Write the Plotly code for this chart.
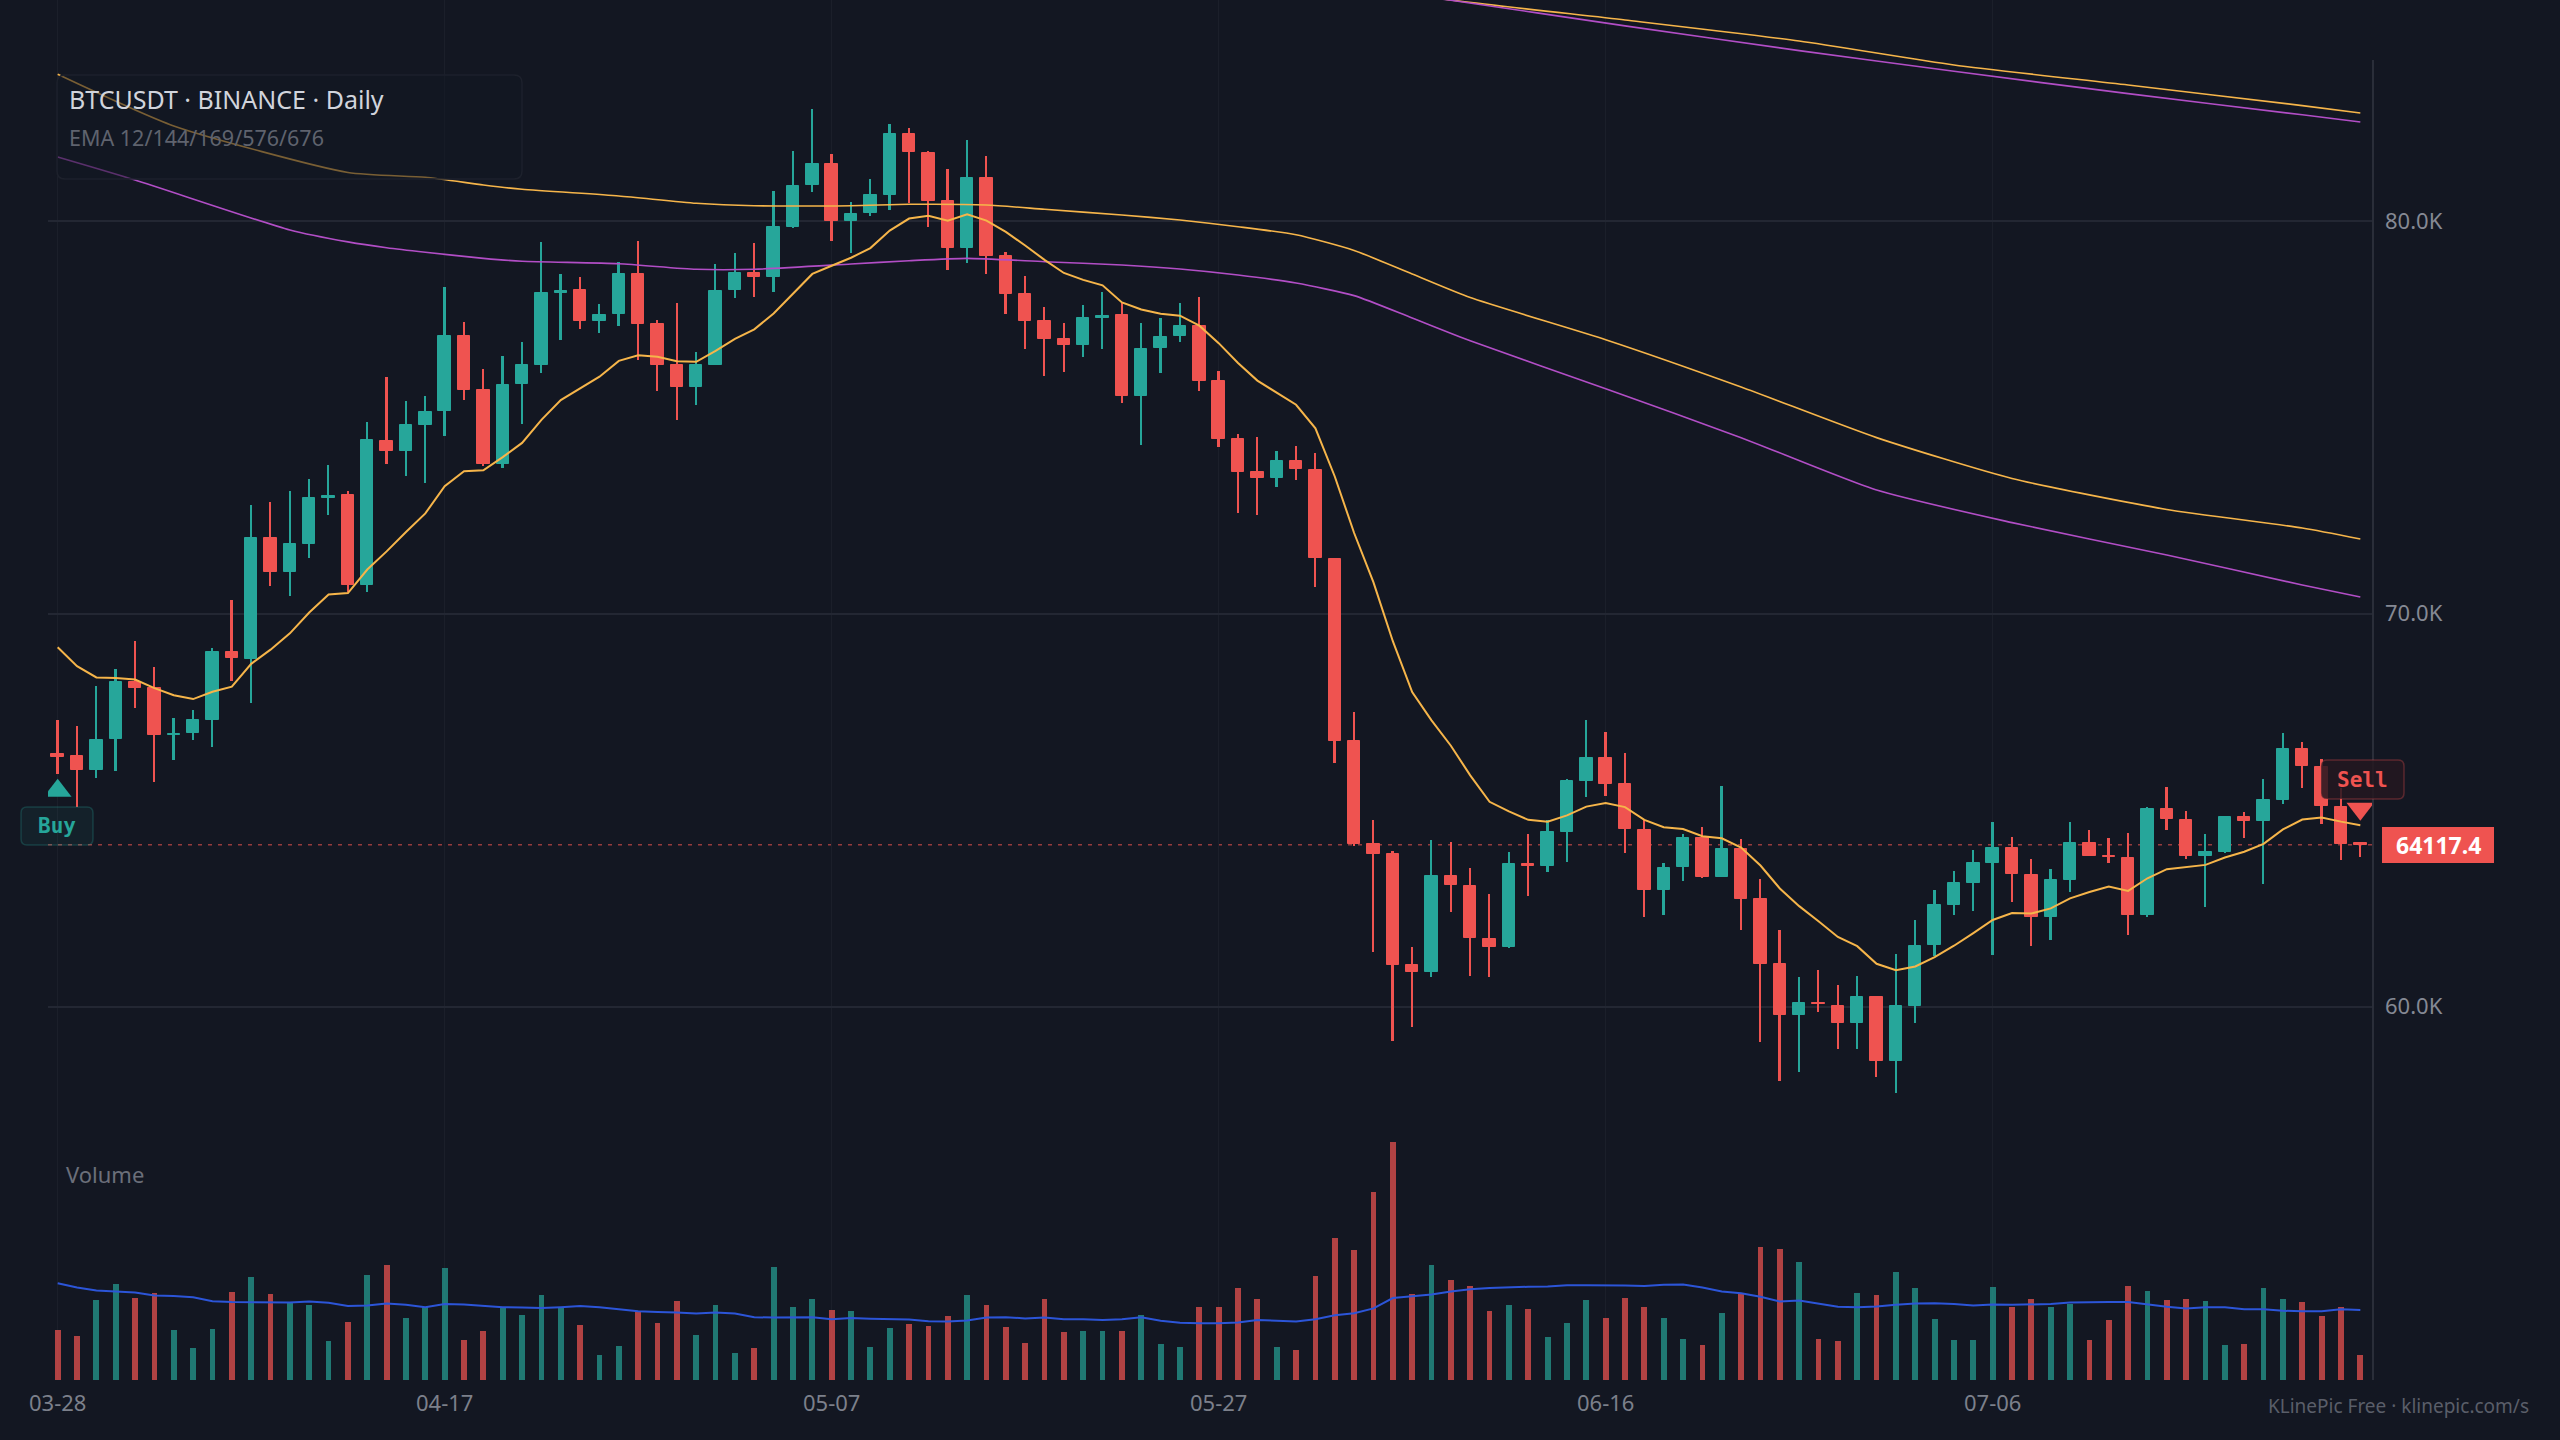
import plotly.graph_objects as go

# ---------------- data ----------------
tick_pos = [0, 20, 40, 60, 80, 100]
tick_labels = ["03-28", "04-17", "05-07", "05-27", "06-16", "07-06"]

opens = [66420, 66382, 66019, 66805, 68274, 68113, 66905, 66966, 67308, 69020,
         68858, 71919, 71073, 71788, 72956, 73036, 70741, 74405, 74133, 74818,
         75160, 77071, 75687, 73804, 75842, 76333, 78175, 78251, 77445, 77632,
         78650, 77369, 76342, 75782, 76342, 78235, 78684, 78574, 79855, 80908,
         81442, 80008, 80195, 80670, 82206, 81740, 80500, 79321, 81086, 79100,
         78137, 77448, 76994, 76838, 77530, 77604, 75539, 76760, 77071, 77318,
         75928, 74448, 73610, 73465, 73881, 73669, 71403, 66761, 64138, 63884,
         61049, 60888, 63324, 63078, 61720, 61516, 63621, 63587, 64452, 65751,
         66320, 65666, 64503, 62967, 63544, 64283, 63307, 64011, 62730, 61075,
         59793, 60081, 60014, 59572, 60251, 58622, 60022, 61558, 62585, 63145,
         63654, 64036, 63358, 62288, 63231, 64156, 63825, 63774, 62339, 65038,
         64741, 63833, 63926, 64835, 64725, 65259, 66549, 66108, 65089, 64160]

highs = [67288, 67137, 68164, 68597, 69301, 68647, 67358, 67560, 69130, 70348,
         72774, 72855, 73137, 73429, 73781, 73127, 74889, 76026, 75422, 75533,
         78331, 77420, 76231, 76554, 76927, 79465, 78659, 78582, 77886, 78947,
         79482, 77479, 77903, 76664, 78913, 79193, 79439, 80772, 81782, 82843,
         81697, 80492, 81077, 82478, 82376, 81782, 81324, 82053, 81663, 79219,
         78604, 77799, 77409, 77851, 78189, 77903, 77409, 77539, 77903, 78072,
         76175, 74590, 74509, 74144, 74272, 74085, 71411, 67508, 64749, 63969,
         61524, 64232, 64189, 63519, 62857, 63926, 64393, 64749, 65793, 67287,
         66990, 66447, 64749, 63663, 64393, 64580, 65615, 64266, 63239, 61949,
         60752, 60930, 60540, 60777, 60268, 61329, 62195, 62976, 63451, 63994,
         64690, 64308, 63757, 63494, 64690, 64495, 64291, 64410, 65089, 65581,
         64987, 64385, 64860, 64962, 65794, 66956, 66736, 66303, 65573, 64198]

lows = [65929, 65073, 65808, 66009, 67590, 65707, 66281, 66774, 66613, 68295,
        67741, 70711, 70459, 71425, 72523, 70560, 70560, 73801, 73519, 73318,
        74536, 75442, 73760, 73719, 74823, 76138, 76961, 77258, 77139, 77335,
        76461, 75671, 74933, 75323, 76325, 78039, 78073, 78200, 79813, 80729,
        79499, 79193, 80135, 80288, 80449, 79847, 78761, 78922, 78659, 77640,
        76747, 76058, 76149, 76526, 76734, 75370, 74292, 76123, 76929, 75682,
        74240, 72577, 72515, 73219, 73406, 70690, 66192, 64096, 61380, 59131,
        59488, 60744, 62416, 60786, 60761, 61499, 62823, 63417, 63672, 65344,
        65361, 63918, 62271, 62322, 63188, 63273, 63307, 61940, 59105, 58113,
        58342, 59852, 58910, 58910, 58197, 57807, 59589, 61287, 62330, 62441,
        61312, 62670, 61550, 61703, 62925, 63825, 63646, 61830, 62271, 64487,
        63748, 62543, 63900, 64283, 63112, 65157, 65556, 64648, 63740, 63816]

closes = [66360, 66019, 66785, 68274, 68123, 66905, 66935, 67288, 69030, 68868,
          71919, 71073, 71778, 72956, 73006, 70741, 74415, 74133, 74808, 75150,
          77073, 75697, 73804, 75832, 76333, 78175, 78215, 77445, 77615, 78650,
          77377, 76342, 75782, 76342, 78226, 78684, 78574, 79855, 80899, 81442,
          80008, 80186, 80670, 82206, 81748, 80509, 79321, 81086, 79117, 78150,
          77461, 77007, 76838, 77539, 77590, 75539, 76747, 77058, 77318, 75928,
          74448, 73616, 73465, 73881, 73677, 71411, 66761, 64138, 63892, 61058,
          60888, 63324, 63086, 61737, 61516, 63621, 63570, 64452, 65742, 66320,
          65675, 64512, 62967, 63536, 64283, 63307, 64011, 62738, 61083, 59793,
          60081, 60056, 59572, 60251, 58622, 60014, 61550, 62577, 63137, 63646,
          64036, 63366, 62288, 63214, 64156, 63825, 63800, 62339, 65038, 64767,
          63833, 63926, 64835, 64733, 65250, 66549, 66125, 65098, 64139, 64117.4]

volumes = [12500, 10900, 19900, 23900, 20500, 21800, 12400, 8000, 12700, 21900,
           25700, 21400, 19500, 18700, 9700, 14600, 26200, 28700, 15600, 18300,
           28000, 10000, 12200, 18300, 16200, 21300, 18300, 13700, 6200, 8600,
           17200, 14200, 19700, 11200, 18700, 6700, 8000, 28200, 18300, 20200,
           17500, 17200, 8200, 13000, 14000, 13400, 16000, 21300, 18700, 13200,
           9200, 20200, 12000, 12200, 12200, 12200, 16200, 9100, 8300, 18300,
           18300, 23000, 20200, 8200, 7600, 25900, 35500, 32500, 47000, 59400,
           21400, 28700, 24900, 23400, 17300, 18700, 17700, 10700, 14200, 20000,
           15500, 20600, 18300, 15400, 10200, 8700, 16700, 21800, 33200, 32700,
           29600, 10300, 9700, 21800, 21200, 27100, 23100, 15200, 10000, 10000,
           23200, 18200, 20200, 18200, 19000, 10000, 15000, 23400, 22200, 19900,
           20200, 19700, 8700, 9100, 23000, 20200, 19600, 15900, 18200, 6300]

volume_ma = [24200, 23100, 22400, 22100, 21900, 21100, 21000, 20700, 19700, 19500,
             19500, 19400, 19400, 19600, 19300, 18500, 18600, 19100, 18800, 18200,
             19000, 18900, 18500, 18200, 18100, 18000, 18200, 18500, 18200, 17700,
             17200, 17000, 16900, 16600, 16900, 16600, 15700, 15600, 15700, 15700,
             15200, 15500, 15300, 15200, 15100, 14700, 14600, 14900, 15600, 15700,
             15400, 15600, 15200, 15200, 15000, 15200, 15700, 14800, 14300, 14200,
             14200, 14400, 15000, 14800, 14600, 15200, 16200, 16700, 17900, 20500,
             21000, 21400, 22100, 22700, 23000, 23200, 23300, 23400, 23700, 23700,
             23700, 23600, 23500, 23800, 23900, 23100, 22100, 21700, 20800, 19600,
             19900, 19100, 18300, 18200, 18400, 18800, 19100, 19200, 19000, 18600,
             18900, 18800, 18900, 19000, 19400, 19500, 19500, 19500, 18900, 18300,
             17900, 18200, 18200, 17700, 17700, 17300, 17200, 17200, 17700, 17500]

ema12_seed = 69150  # EMA12 value on the first visible day

ema144_idx = [0, 6, 15, 19, 22, 24, 29, 33, 36, 41, 44, 48, 51, 55, 58, 61,
              64, 67, 70, 73, 80, 87, 94, 101, 109, 116, 119]
ema144_val = [83735, 82419, 81235, 81113, 80917, 80807, 80637, 80451, 80390, 80390,
              80425, 80407, 80298, 80153, 80025, 79855, 79650, 79250, 78650, 78050,
              76978, 75774, 74485, 73444, 72655, 72184, 71904]

ema169_idx = [0, 4, 12, 15, 17, 19, 22, 24, 29, 33, 36, 41, 44, 47, 51, 55, 58, 61,
              64, 67, 70, 73, 80, 87, 94, 101, 109, 116, 119]
ema169_val = [81629, 81044, 79771, 79468, 79318, 79203, 79050, 78974, 78913, 78770,
              78770, 78905, 78989, 79050, 78964, 78880, 78778, 78625, 78420, 78100,
              77530, 76950, 75730, 74485, 73151, 72321, 71496, 70733, 70427]

ema576_idx = [60, 72, 81, 90, 98, 107, 116, 119]
ema576_val = [86518, 85627, 85118, 84583, 83972, 83463, 82938, 82750]

ema676_idx = [60, 72, 81, 90, 98, 107, 116, 119]
ema676_val = [86400, 85620, 84969, 84339, 83811, 83244, 82704, 82520]

last_price = 64117.4
buy_idx = 0
sell_idx = 119

# ---------------- styling ----------------
BG = "#131722"
GREEN = "#26a69a"
RED = "#ef5350"
ORANGE = "#f6b54a"
PURPLE = "#b24ec6"
BLUE = "#2c55d8"
GRID = "#232733"
TXT = "#7c808b"

W, H = 2560, 1440
ML, MR, MT, MB = 48, 187, 0, 60
PW, PH = W - ML - MR, H - MT - MB
PRICE_RANGE = [50492, 85627]
VOL_RANGE = [0, 345000]


def px(x):
    return (x - ML) / PW


def py(y):
    return 1 - (y - MT) / PH


def price_per_px():
    return (PRICE_RANGE[1] - PRICE_RANGE[0]) / PH


def rounded_path(x0, y0, x1, y1, r):
    pts = [
        ("M", [(x0 + r, y0)]), ("L", [(x1 - r, y0)]), ("Q", [(x1, y0), (x1, y0 + r)]),
        ("L", [(x1, y1 - r)]), ("Q", [(x1, y1), (x1 - r, y1)]), ("L", [(x0 + r, y1)]),
        ("Q", [(x0, y1), (x0, y1 - r)]), ("L", [(x0, y0 + r)]), ("Q", [(x0, y0), (x0 + r, y0)]),
    ]
    s = ""
    for cmd, ps in pts:
        s += cmd + " " + " ".join(f"{px(a):.6f},{py(b):.6f}" for a, b in ps) + " "
    return s + "Z"


n = len(closes)
idx = list(range(n))
up = [i for i in idx if closes[i] >= opens[i]]
dn = [i for i in idx if closes[i] < opens[i]]

# EMA12 from the closes
ema12 = [ema12_seed]
k = 2 / 13
for c in closes[1:]:
    ema12.append(ema12[-1] + k * (c - ema12[-1]))

fig = go.Figure()

# volume
for sel, col in ((up, "rgba(38,166,154,0.68)"), (dn, "rgba(239,83,80,0.72)")):
    fig.add_trace(go.Bar(x=sel, y=[volumes[i] for i in sel], yaxis="y2", width=0.3,
                         marker=dict(color=col, line=dict(width=0)), hoverinfo="skip"))
fig.add_trace(go.Scatter(x=idx, y=volume_ma, yaxis="y2", mode="lines",
                         line=dict(color=BLUE, width=2), hoverinfo="skip"))

# candles: wicks then bodies
for sel, col in ((up, GREEN), (dn, RED)):
    fig.add_trace(go.Bar(x=sel, y=[highs[i] - lows[i] for i in sel], base=[lows[i] for i in sel],
                         width=0.09, marker=dict(color=col, line=dict(width=0)), hoverinfo="skip"))
    fig.add_trace(go.Bar(x=sel, y=[abs(closes[i] - opens[i]) for i in sel],
                         base=[min(opens[i], closes[i]) for i in sel],
                         width=0.64, marker=dict(color=col, line=dict(color=col, width=1)),
                         hoverinfo="skip"))

# EMA lines
for xs, ys, col, wd in ((ema576_idx, ema576_val, ORANGE, 1.6), (ema676_idx, ema676_val, PURPLE, 1.6),
                        (ema144_idx, ema144_val, ORANGE, 1.6), (ema169_idx, ema169_val, PURPLE, 1.6)):
    fig.add_trace(go.Scatter(x=xs, y=ys, mode="lines", line=dict(color=col, width=wd, shape="spline",
                                                                smoothing=0.6), hoverinfo="skip"))
fig.add_trace(go.Scatter(x=idx, y=ema12, mode="lines", line=dict(color=ORANGE, width=2), hoverinfo="skip"))

# buy / sell markers
ppp = price_per_px()
fig.add_trace(go.Scatter(x=[buy_idx], y=[lows[buy_idx] - 17 * ppp], mode="markers",
                         marker=dict(symbol="triangle-up", size=24, color=GREEN, line=dict(width=0)),
                         hoverinfo="skip"))
fig.add_trace(go.Scatter(x=[sell_idx], y=[highs[sell_idx] + 33 * ppp], mode="markers",
                         marker=dict(symbol="triangle-down", size=24, color=RED, line=dict(width=0)),
                         hoverinfo="skip"))

shapes = [
    # last price dashed line
    dict(type="line", xref="paper", yref="y", x0=0, x1=1, y0=last_price, y1=last_price,
         line=dict(color="rgba(239,83,80,0.6)", width=1.5, dash="4px,6px"), layer="below"),
    # right axis line
    dict(type="line", xref="paper", yref="paper", x0=1, x1=1, y0=0, y1=py(60),
         line=dict(color="#2a2e39", width=2)),
    # title box
    dict(type="path", xref="paper", yref="paper", path=rounded_path(57, 75, 522, 179, 8),
         fillcolor="rgba(19,23,34,0.55)", line=dict(color="#1d212c", width=1.5), layer="above"),
    # buy box
    dict(type="path", xref="paper", yref="paper", path=rounded_path(21, 807, 93, 845, 6),
         fillcolor="rgba(38,166,154,0.07)", line=dict(color="rgba(38,166,154,0.25)", width=1.5),
         layer="above"),
    # sell box
    dict(type="path", xref="paper", yref="paper", path=rounded_path(2321, 760, 2404, 799, 6),
         fillcolor="rgba(36,24,32,0.85)", line=dict(color="rgba(239,83,80,0.3)", width=1.5),
         layer="above"),
    # last price tag
    dict(type="rect", xref="paper", yref="paper", x0=px(2382), x1=px(2494), y0=py(863), y1=py(827),
         fillcolor=RED, line=dict(width=0), layer="above"),
]

ann = [
    dict(text="BTCUSDT · BINANCE · Daily", x=px(67), y=py(99), font=dict(family="Noto Sans", size=25, color="#d1d4dc")),
    dict(text="EMA 12/144/169/576/676", x=px(67), y=py(138), font=dict(family="Noto Sans", size=21.5, color="#5f636e")),
    dict(text="Volume", x=px(64), y=py(1174), font=dict(family="Noto Sans", size=22, color="#6b6f7a")),
    dict(text="Buy", x=px(57), y=py(826), xanchor="center", font=dict(family="DejaVu Sans Mono", size=21, color=GREEN, weight="bold")),
    dict(text="Sell", x=px(2362), y=py(780), xanchor="center", font=dict(family="DejaVu Sans Mono", size=21, color=RED, weight="bold")),
    dict(text="64117.4", x=px(2438), y=py(845), xanchor="center", font=dict(family="Noto Sans", size=23, color="#ffffff", weight="bold")),
    dict(text="KLinePic Free · klinepic.com/s", x=px(2531), y=py(1406), xanchor="right", font=dict(family="Noto Sans", size=19, color="#5a5e69")),
]
annotations = []
for a in ann:
    a.setdefault("xanchor", "left")
    annotations.append(dict(xref="paper", yref="paper", yanchor="middle", showarrow=False, **a))

fig.update_layout(
    width=W, height=H, margin=dict(l=ML, r=MR, t=MT, b=MB),
    paper_bgcolor=BG, plot_bgcolor=BG, showlegend=False, barmode="overlay", bargap=0,
    xaxis=dict(range=[-0.5, -0.5 + PW / 19.35], tickvals=tick_pos, ticktext=tick_labels,
               showgrid=True, gridcolor="#1b1f2a", gridwidth=1, zeroline=False, showline=False, ticks="",
               tickfont=dict(family="Noto Sans", size=22, color=TXT), ticklabelstandoff=8),
    yaxis=dict(range=PRICE_RANGE, side="right", tickvals=[60000, 70000, 80000],
               ticktext=["60.0K", "70.0K", "80.0K"], showgrid=True, gridcolor=GRID, gridwidth=1.5,
               zeroline=False, showline=False, ticks="", ticklabelstandoff=11,
               tickfont=dict(family="Noto Sans", size=22, color="#858994")),
    yaxis2=dict(range=VOL_RANGE, overlaying="y", visible=False),
    shapes=shapes, annotations=annotations,
)

fig.write_html("out.html", config={"displayModeBar": False})
